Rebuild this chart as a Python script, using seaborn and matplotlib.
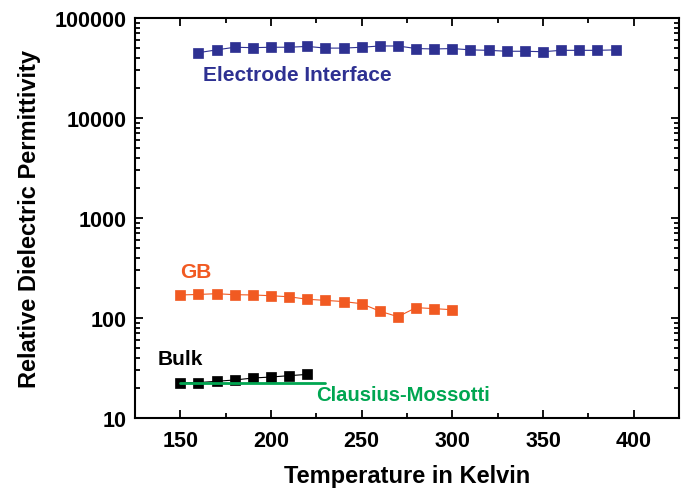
import numpy as np
import pandas as pd
import matplotlib
matplotlib.use("Agg")
import matplotlib.pyplot as plt
import seaborn as sns
from matplotlib.ticker import LogLocator, FixedLocator, NullFormatter, FuncFormatter

# ---- data ----
ei_temp = [160, 170, 180, 190, 200, 210, 220, 230, 240, 250, 260, 270,
           280, 290, 300, 310, 320, 330, 340, 350, 360, 370, 380, 390]
ei_eps = [45000, 48000, 51000, 50500, 51000, 51000, 52000, 50000, 50000, 51000, 52500, 52500,
          49500, 49000, 49500, 48000, 47500, 46500, 46500, 46000, 47500, 47500, 47500, 48000]

gb_temp = [150, 160, 170, 180, 190, 200, 210, 220, 230, 240, 250, 260, 270, 280, 290, 300]
gb_eps = [170, 172, 175, 171, 170, 167, 163, 154, 150, 146, 139, 117, 103, 127, 124, 121]

bulk_temp = [150, 160, 170, 180, 190, 200, 210, 220]
bulk_eps = [22.6, 22.6, 23.3, 24.0, 25.1, 25.7, 26.5, 27.3]

cm_temp = [150, 230]
cm_eps = [22.6, 22.6]

labels = ["Electrode Interface", "GB", "Bulk", "Clausius-Mossotti"]
colors = {"ei": "#2e3192", "gb": "#f15a22", "bulk": "#000000", "cm": "#00a651"}

# ---- style ----
sns.set_style("ticks")
plt.rcParams["font.family"] = ["Liberation Sans", "DejaVu Sans"]
plt.rcParams["font.weight"] = "bold"
plt.rcParams["text.color"] = "black"
plt.rcParams["axes.labelcolor"] = "black"
plt.rcParams["xtick.color"] = "black"
plt.rcParams["ytick.color"] = "black"

fig = plt.figure(figsize=(6.87, 4.89), dpi=100)
ax = fig.add_axes([135/687, 1-419/489, (679-135)/687, (419-19)/489])

def series(t, e, c):
    df = pd.DataFrame({"T": t, "eps": e})
    sns.lineplot(data=df, x="T", y="eps", ax=ax, color=c, lw=0.8, marker="s",
                 markersize=6.8, markeredgecolor=c, markeredgewidth=0.5, alpha=1)

series(ei_temp, ei_eps, colors["ei"])
series(gb_temp, gb_eps, colors["gb"])
series(bulk_temp, bulk_eps, colors["bulk"])
df_cm = pd.DataFrame({"T": cm_temp, "eps": cm_eps})
sns.lineplot(data=df_cm, x="T", y="eps", ax=ax, color=colors["cm"], lw=2)

ax.set_yscale("log")
ax.set_xlim(125, 425)
ax.set_ylim(10, 100000)

ax.xaxis.set_major_locator(FixedLocator([150, 200, 250, 300, 350, 400]))
ax.xaxis.set_minor_locator(FixedLocator([125, 175, 225, 275, 325, 375, 425]))
ax.yaxis.set_major_locator(LogLocator(base=10, numticks=10))
ax.yaxis.set_minor_locator(LogLocator(base=10, subs=np.arange(2, 10), numticks=20))
ax.yaxis.set_minor_formatter(NullFormatter())
ax.yaxis.set_major_formatter(FuncFormatter(lambda v, p: f"{int(round(v))}"))

ax.tick_params(which="both", direction="in", top=True, right=True, width=1.3,
               colors="black", labelcolor="black")
ax.tick_params(which="major", length=6, labelsize=15.5)
ax.tick_params(axis="x", which="major", pad=9)
ax.tick_params(axis="y", which="major", pad=6)
ax.tick_params(which="minor", length=3.5)
for lab in ax.get_xticklabels() + ax.get_yticklabels():
    lab.set_fontweight("bold")
for s in ax.spines.values():
    s.set_linewidth(1.5)
    s.set_color("black")

ax.set_xlabel("Temperature in Kelvin", fontsize=17, fontweight="bold", labelpad=9, color="black")
ax.set_ylabel("Relative Dielectric Permittivity", fontsize=17, fontweight="bold", labelpad=10, color="black")

tx = lambda px: 150 + (px - 180) / 1.818
ty = lambda py: 10 ** (1 + (419 - py) / 100)
ax.text(tx(203), ty(75), labels[0], color=colors["ei"], fontsize=15,
        fontweight="bold", va="center", ha="left")
ax.text(tx(180), ty(273), labels[1], color=colors["gb"], fontsize=15,
        fontweight="bold", va="center", ha="left")
ax.text(tx(157), ty(360), labels[2], color=colors["bulk"], fontsize=15,
        fontweight="bold", va="center", ha="left")
ax.text(tx(316), ty(396), labels[3], color=colors["cm"], fontsize=14.6,
        fontweight="bold", va="center", ha="left")

fig.savefig("out.png", dpi=100)
